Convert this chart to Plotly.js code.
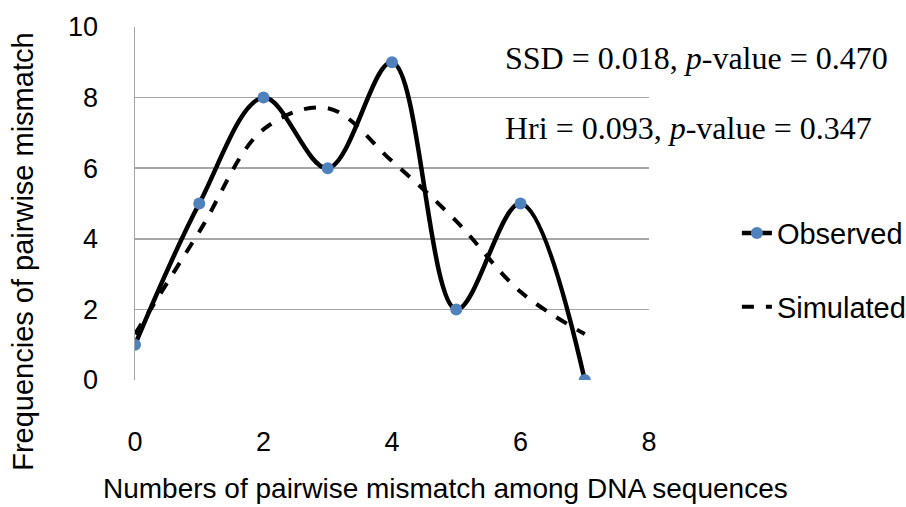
<!DOCTYPE html>
<html>
<head>
<meta charset="utf-8">
<script src="https://cdn.plot.ly/plotly-3.0.1.min.js"></script>
<style>html,body{margin:0;padding:0;background:#fff;}#chart{width:906px;height:507px;}</style>
</head>
<body>
<div id="chart"></div>
<script>
const mismatches = [0, 1, 2, 3, 4, 5, 6, 7];
const observed = [1, 5, 8, 6, 9, 2, 5, 0];
const simulated = [1.3, 4.2, 7.1, 7.7, 6.2, 4.5, 2.5, 1.3];
const xTicks = [0, 2, 4, 6, 8];
const yTicks = [0, 2, 4, 6, 8, 10];
const xTitle = "Numbers of pairwise mismatch among DNA sequences";
const yTitle = "Frequencies of pairwise mismatch";
const statLines = [
  "SSD = 0.018, <i>p</i>-value = 0.470",
  "Hri = 0.093, <i>p</i>-value = 0.347"
];

const sans = "Liberation Sans, Arial, sans-serif";
const serif = "Liberation Serif, Times New Roman, serif";

const traces = [
  {
    x: mismatches, y: observed, name: "Observed", type: "scatter", mode: "lines+markers",
    line: {color: "#000000", width: 4.5, shape: "spline", smoothing: 1},
    marker: {color: "#4f81bd", size: 12},
    legend: "legend"
  },
  {
    x: mismatches, y: simulated, name: "Simulated", type: "scatter", mode: "lines",
    line: {color: "#000000", width: 4, dash: "dash", shape: "spline", smoothing: 1},
    legend: "legend2"
  }
];

const layout = {
  width: 906, height: 507,
  paper_bgcolor: "#ffffff", plot_bgcolor: "#ffffff",
  margin: {l: 135, r: 257, t: 27, b: 127, autoexpand: false},
  font: {family: sans, color: "#000000", size: 24},
  xaxis: {
    range: [0, 8], tickvals: xTicks, ticktext: xTicks.map(String),
    showgrid: false, zeroline: false, showline: false, automargin: false,
    ticks: "", ticklabelstandoff: 43,
    tickfont: {family: sans, size: 27}
  },
  yaxis: {
    range: [0, 10], tickvals: yTicks, ticktext: yTicks.map(String),
    showgrid: true, gridcolor: "#a6a6a6", gridwidth: 1.5, automargin: false,
    zeroline: false, showline: true, linecolor: "#a6a6a6", linewidth: 1.5,
    ticks: "", ticklabelstandoff: 30,
    tickfont: {family: sans, size: 27}
  },
  showlegend: true,
  legend: {x: 1.171, y: 0.416, xanchor: "left", yanchor: "middle", font: {family: sans, size: 29}, bgcolor: "rgba(0,0,0,0)"},
  legend2: {x: 1.171, y: 0.207, xanchor: "left", yanchor: "middle", font: {family: sans, size: 29}, bgcolor: "rgba(0,0,0,0)"},
  annotations: [
    {text: statLines[0], xref: "paper", yref: "paper", x: 0.716, y: 0.912, xanchor: "left", yanchor: "middle", showarrow: false, font: {family: serif, size: 32}},
    {text: statLines[1], xref: "paper", yref: "paper", x: 0.716, y: 0.714, xanchor: "left", yanchor: "middle", showarrow: false, font: {family: serif, size: 32}},
    {text: xTitle, xref: "paper", yref: "paper", x: 0.605, y: -0.306, xanchor: "center", yanchor: "middle", showarrow: false, font: {family: sans, size: 28}},
    {text: yTitle, xref: "paper", yref: "paper", x: -0.218, y: 0.363, xanchor: "center", yanchor: "middle", textangle: -90, showarrow: false, font: {family: sans, size: 29}}
  ]
};

Plotly.newPlot("chart", traces, layout, {displayModeBar: false, staticPlot: true});
</script>
</body>
</html>
